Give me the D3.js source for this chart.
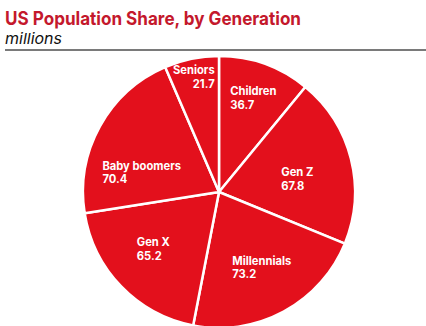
<!DOCTYPE html>
<html>
<head>
<meta charset="utf-8">
<script src="https://cdn.jsdelivr.net/npm/d3@7"></script>
<style>
  html, body { margin: 0; padding: 0; background: #fff; }
  svg { display: block; font-family: Inter, "Open Sans", sans-serif; }
</style>
</head>
<body>
<svg id="chart" width="426" height="326"></svg>
<script>
// Data
const categories = ["Children", "Gen Z", "Millennials", "Gen X", "Baby boomers", "Seniors"];
const values = [36.7, 67.8, 73.2, 65.2, 70.4, 21.7];
const title = "US Population Share, by Generation";
const subtitle = "millions";

const svg = d3.select("#chart");
const W = 426, H = 326;

svg.append("text")
  .attr("x", 5).attr("y", 24.8)
  .attr("fill", "#c4182c")
  .attr("font-size", 18.5)
  .attr("font-weight", 700)
  .attr("textLength", 296)
  .attr("lengthAdjust", "spacingAndGlyphs")
  .text(title);
svg.append("text")
  .attr("x", 5).attr("y", 43.8)
  .attr("fill", "#111")
  .attr("font-size", 14.8)
  .attr("font-style", "italic")
  .attr("textLength", 57)
  .attr("lengthAdjust", "spacingAndGlyphs")
  .text(subtitle);

svg.append("line")
  .attr("x1", 5).attr("x2", W)
  .attr("y1", 50).attr("y2", 50)
  .attr("stroke", "#7a7a7a").attr("stroke-width", 2);

const cx = 219, cy = 192, R = 136;
const data = categories.map((c, i) => ({ name: c, value: values[i] }));
const pie = d3.pie().value(d => d.value).sort(null);
const arcs = pie(data);
const arc = d3.arc().innerRadius(0).outerRadius(R);
const labelArc = d3.arc().innerRadius(90).outerRadius(90);

const g = svg.append("g").attr("transform", `translate(${cx},${cy})`);

g.selectAll("path.slice")
  .data(arcs)
  .join("path")
  .attr("class", "slice")
  .attr("d", arc)
  .attr("fill", "#e3101c")
  .attr("stroke", "#fff")
  .attr("stroke-width", 2.5)
  .attr("stroke-linejoin", "round");

// layout nudges for label blocks (relative to centroid)
const nudges = [[4, -10], [-9, 8.5], [0, -4], [-1, -6], [1.5, 23.5], [-7, -27]];

arcs.forEach((a, i) => {
  const [x, y] = labelArc.centroid(a);
  const lg = g.append("text")
    .attr("transform", `translate(${x + nudges[i][0]},${y + nudges[i][1]})`)
    .attr("fill", "#fff")
    .attr("font-size", 11.2)
    .attr("font-weight", 700);
  const t1 = lg.append("tspan").attr("y", -2.5).text(a.data.name);
  const t2 = lg.append("tspan").attr("y", 11.3).text(d3.format(".1f")(a.data.value));
  const w = Math.max(t1.node().getComputedTextLength(), t2.node().getComputedTextLength());
  if (a.data.value < 30) {
    lg.attr("text-anchor", "end");
    t1.attr("x", w / 2);
    t2.attr("x", w / 2);
  } else {
    t1.attr("x", -w / 2);
    t2.attr("x", -w / 2);
  }
});
</script>
</body>
</html>
